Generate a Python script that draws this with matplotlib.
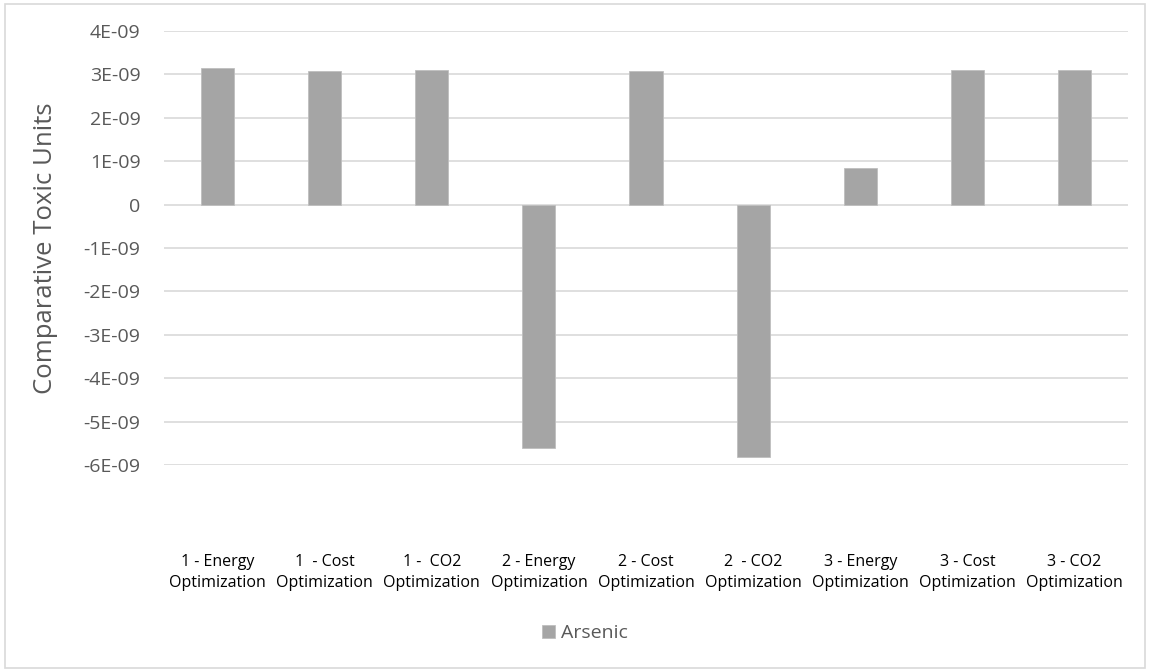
import matplotlib.pyplot as plt
from matplotlib.patches import Rectangle
import numpy as np

# ----------------------------------------------------------------------
# Data
# ----------------------------------------------------------------------

scenarios = [
    "1 - Energy\nOptimization", "1  - Cost\nOptimization", "1 -  CO2\nOptimization",
    "2 - Energy\nOptimization", "2 - Cost\nOptimization", "2  - CO2\nOptimization",
    "3 - Energy\nOptimization", "3 - Cost\nOptimization", "3 - CO2\nOptimization",
]
arsenic = [3.15e-9, 3.07e-9, 3.09e-9, -5.61e-9, 3.07e-9, -5.82e-9, 0.84e-9, 3.09e-9, 3.09e-9]
yticks = [4e-9, 3e-9, 2e-9, 1e-9, 0, -1e-9, -2e-9, -3e-9, -4e-9, -5e-9, -6e-9]
ytick_labels = ["4E-09", "3E-09", "2E-09", "1E-09", "0", "-1E-09", "-2E-09",
                "-3E-09", "-4E-09", "-5E-09", "-6E-09"]

plt.rcParams['font.family'] = ['Open Sans', 'DejaVu Sans']

BAR = "#A5A5A5"
GRID = "#D9D9D9"
TXT = "#595959"

fig = plt.figure(figsize=(11.51, 6.71), dpi=100)
ax = fig.add_axes([164 / 1151, 1 - 465 / 671, (1128 - 164) / 1151, (465 - 31) / 671])

x = np.arange(len(scenarios))
ax.bar(x, arsenic, width=0.31, color=BAR, edgecolor="#BFBFBF", linewidth=0.6,
       label="Arsenic", zorder=3)

ax.set_xlim(-0.5, len(scenarios) - 0.5)
ax.set_ylim(-6e-9, 4e-9)
ax.set_yticks(yticks)
ax.set_yticklabels(ytick_labels)
ax.yaxis.grid(True, color=GRID, linewidth=1.2, zorder=0)
ax.set_axisbelow(True)
for s in ax.spines.values():
    s.set_visible(False)
ax.tick_params(axis="y", length=0, pad=17, labelsize=14, labelcolor=TXT)

ax.set_xticks(x)
ax.set_xticklabels(scenarios, fontsize=11.5, color="black", linespacing=1.4)
ax.tick_params(axis="x", length=0, pad=64)

ax.set_ylabel("Comparative Toxic Units", fontsize=18.5, color=TXT, labelpad=18)

leg = fig.legend(loc="center", bbox_to_anchor=(585 / 1151, 1 - 633 / 671),
                 frameon=False, fontsize=14, handlelength=0.65, handleheight=0.65,
                 handletextpad=0.3, labelcolor=TXT)

# outer chart border
fig.add_artist(Rectangle((5 / 1151, 3 / 671), 1140 / 1151, 664 / 671,
                         transform=fig.transFigure, fill=False,
                         edgecolor=GRID, linewidth=1.2))

fig.savefig("out.png", dpi=100, facecolor="white")
